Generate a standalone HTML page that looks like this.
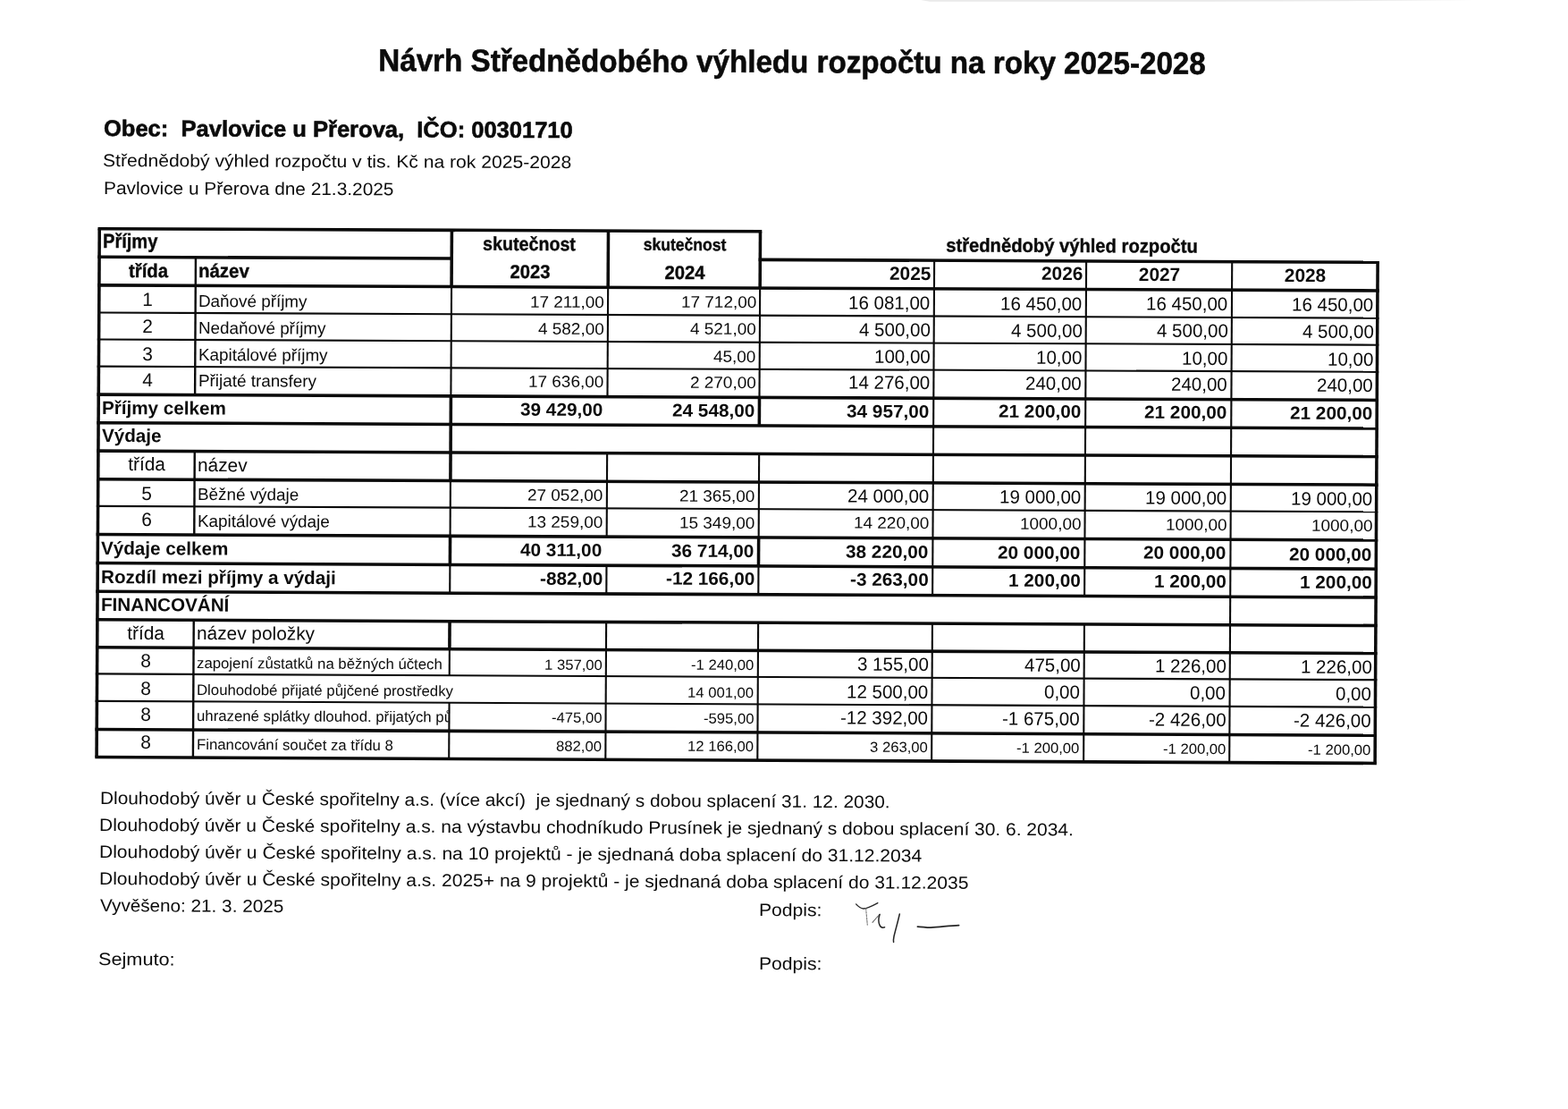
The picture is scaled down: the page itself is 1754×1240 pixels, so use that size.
<!DOCTYPE html>
<html lang="cs">
<head>
<meta charset="utf-8">
<title>Návrh Střednědobého výhledu rozpočtu na roky 2025-2028</title>
<style>
html,body{margin:0;padding:0;background:#fff;overflow:hidden}
body{width:1754px;height:1240px}
#page{position:relative;width:1754px;height:1240px;overflow:hidden;background:#fff;font-family:"Liberation Sans",sans-serif;color:#0b0b0b}
#grid{position:absolute;left:0;top:0}
.t{position:absolute;white-space:pre;line-height:1;margin:0;padding:0}
</style>
</head>
<body>
<div id="page">
<svg id="grid" width="1754" height="1240" viewBox="0 0 1754 1240" fill="none" stroke="#0b0b0b" stroke-linecap="butt">
<polygon points="1030,0 1650,0 1500,1.2 1354,1.7 1040,1.8" fill="#e9e9e9" stroke="none"/>
<line x1="109.49" y1="255.69" x2="852.28" y2="258.78" stroke-width="3.55"/>
<line x1="109.32" y1="287.29" x2="507.01" y2="288.96" stroke-width="3.55"/>
<line x1="848.56" y1="290.39" x2="1542.91" y2="293.30" stroke-width="3.55"/>
<line x1="109.15" y1="318.89" x2="1542.74" y2="324.96" stroke-width="3.55"/>
<line x1="108.98" y1="349.54" x2="1542.57" y2="355.66" stroke-width="2.10"/>
<line x1="108.82" y1="379.54" x2="1542.41" y2="385.70" stroke-width="2.10"/>
<line x1="108.66" y1="409.64" x2="1542.25" y2="415.85" stroke-width="2.10"/>
<line x1="108.49" y1="441.14" x2="1542.08" y2="447.41" stroke-width="3.55"/>
<line x1="108.31" y1="472.69" x2="1541.90" y2="479.01" stroke-width="3.55"/>
<line x1="108.14" y1="504.14" x2="1541.73" y2="510.51" stroke-width="3.55"/>
<line x1="107.97" y1="535.74" x2="1541.56" y2="542.16" stroke-width="3.55"/>
<line x1="107.81" y1="565.84" x2="1541.40" y2="572.31" stroke-width="2.10"/>
<line x1="107.64" y1="597.54" x2="1541.23" y2="604.06" stroke-width="3.55"/>
<line x1="107.47" y1="629.59" x2="1541.06" y2="636.17" stroke-width="3.55"/>
<line x1="107.30" y1="661.34" x2="1540.89" y2="667.97" stroke-width="3.55"/>
<line x1="107.13" y1="692.79" x2="1540.72" y2="699.47" stroke-width="3.55"/>
<line x1="106.96" y1="723.84" x2="1540.55" y2="730.57" stroke-width="3.55"/>
<line x1="106.80" y1="753.39" x2="1540.39" y2="760.17" stroke-width="2.10"/>
<line x1="106.63" y1="783.84" x2="1540.22" y2="790.67" stroke-width="2.10"/>
<line x1="106.46" y1="815.44" x2="1540.05" y2="822.32" stroke-width="3.55"/>
<line x1="106.30" y1="846.49" x2="1539.89" y2="853.42" stroke-width="3.55"/>
<line x1="111.26" y1="255.70" x2="108.07" y2="846.50" stroke-width="3.55"/>
<line x1="218.93" y1="287.75" x2="218.10" y2="441.62" stroke-width="2.40"/>
<line x1="217.76" y1="504.63" x2="217.26" y2="598.04" stroke-width="2.40"/>
<line x1="216.74" y1="693.30" x2="215.91" y2="847.02" stroke-width="2.40"/>
<line x1="505.40" y1="257.34" x2="505.06" y2="320.57" stroke-width="3.55"/>
<line x1="505.06" y1="320.57" x2="504.40" y2="442.87" stroke-width="2.10"/>
<line x1="504.40" y1="442.87" x2="503.89" y2="537.52" stroke-width="3.55"/>
<line x1="503.89" y1="537.52" x2="503.56" y2="599.34" stroke-width="2.10"/>
<line x1="503.56" y1="599.34" x2="503.38" y2="631.41" stroke-width="3.55"/>
<line x1="503.38" y1="631.41" x2="503.21" y2="663.17" stroke-width="2.10"/>
<line x1="503.04" y1="694.64" x2="502.87" y2="725.70" stroke-width="3.55"/>
<line x1="502.87" y1="725.70" x2="502.71" y2="755.26" stroke-width="2.10"/>
<line x1="502.55" y1="785.73" x2="502.21" y2="848.41" stroke-width="2.10"/>
<line x1="680.50" y1="258.07" x2="680.16" y2="321.31" stroke-width="3.55"/>
<line x1="680.16" y1="321.31" x2="679.50" y2="443.64" stroke-width="2.10"/>
<line x1="679.16" y1="506.68" x2="678.66" y2="600.14" stroke-width="2.10"/>
<line x1="678.48" y1="632.21" x2="678.31" y2="663.98" stroke-width="2.10"/>
<line x1="678.14" y1="695.45" x2="677.31" y2="849.25" stroke-width="2.10"/>
<line x1="850.50" y1="258.77" x2="850.16" y2="322.03" stroke-width="3.55"/>
<line x1="850.16" y1="322.03" x2="849.50" y2="444.38" stroke-width="2.10"/>
<line x1="849.50" y1="444.38" x2="849.33" y2="475.96" stroke-width="3.55"/>
<line x1="849.16" y1="507.43" x2="848.66" y2="600.91" stroke-width="2.10"/>
<line x1="848.66" y1="600.91" x2="848.48" y2="632.99" stroke-width="3.55"/>
<line x1="848.48" y1="632.99" x2="848.31" y2="664.77" stroke-width="2.10"/>
<line x1="848.14" y1="696.24" x2="847.31" y2="850.07" stroke-width="2.10"/>
<line x1="1045.13" y1="291.22" x2="1043.11" y2="665.67" stroke-width="2.10"/>
<line x1="1042.94" y1="697.15" x2="1042.11" y2="851.02" stroke-width="2.10"/>
<line x1="1215.13" y1="291.93" x2="1213.11" y2="666.45" stroke-width="2.10"/>
<line x1="1212.94" y1="697.94" x2="1212.11" y2="851.84" stroke-width="2.10"/>
<line x1="1378.23" y1="292.61" x2="1375.21" y2="852.63" stroke-width="2.10"/>
<line x1="1541.13" y1="293.30" x2="1538.11" y2="853.41" stroke-width="3.55"/>
<g stroke="#262626" stroke-linecap="round" stroke-linejoin="round">
<path d="M957.6 1010.9 C959.5 1013 962.5 1015.6 965.8 1016 C971 1015.6 977 1012.2 981.8 1009.6" stroke-width="1.4"/>
<path d="M968.7 1015.8 C969 1021 969.8 1028 970.3 1034.2" stroke-width="1.1" stroke="#777" stroke-dasharray="2.2 1.2"/>
<path d="M976 1031.3 C978.6 1028.4 981.6 1025 984 1022.4" stroke-width="1.1" stroke="#666" stroke-dasharray="2.5 1"/>
<path d="M984.1 1022.4 C982.6 1026.5 982.4 1030.5 984 1034.4 C985.3 1037.2 987.6 1037.6 989.6 1036.8" stroke-width="1.5"/>
<path d="M1006.3 1022 C1004.6 1030 1001.6 1040 1000 1047 C999.4 1050 999.3 1052 999.6 1053.4" stroke-width="1.5"/>
<path d="M1026.4 1036 C1031 1036 1036 1037.2 1041 1037.1 C1052 1036.4 1063 1035 1072.6 1034.6" stroke-width="1.75"/>
</g>
</svg>
<div class="t" style="top:51.86px;font-size:34.80px;left:285.81px;width:1200px;text-align:center;font-weight:700;-webkit-text-stroke:0.60px #0b0b0b;transform:rotate(0.2264deg) scale(0.9534,1.0000);transform-origin:50% 29px">Návrh Střednědobého výhledu rozpočtu na roky 2025-2028</div>
<div class="t" style="top:130.77px;font-size:25.30px;left:116.26px;font-weight:700;-webkit-text-stroke:0.60px #0b0b0b;transform:rotate(0.2313deg) scale(1.0086,1.0000);transform-origin:0 21px">Obec:  Pavlovice u Přerova,  IČO: 00301710</div>
<div class="t" style="top:168.02px;font-size:21.10px;left:115.38px;transform:rotate(0.2335deg) scale(1.0000,0.9300);transform-origin:0 18px">Střednědobý výhled rozpočtu v tis. Kč na rok 2025-2028</div>
<div class="t" style="top:198.77px;font-size:21.10px;left:115.81px;transform:rotate(0.2355deg) scale(0.9880,0.9400);transform-origin:0 18px">Pavlovice u Přerova dne 21.3.2025</div>
<div class="t" style="top:259.42px;font-size:22.30px;left:115.08px;font-weight:700;-webkit-text-stroke:0.40px #0b0b0b;transform:rotate(0.2395deg) scale(0.9000,1.0000);transform-origin:0 18px">Příjmy</div>
<div class="t" style="top:292.53px;font-size:21.30px;left:15.71px;width:300px;text-align:center;font-weight:700;-webkit-text-stroke:0.40px #0b0b0b;transform:rotate(0.2416deg) scale(0.9500,1.0000);transform-origin:50% 17px">třída</div>
<div class="t" style="top:293.07px;font-size:21.30px;left:222.31px;font-weight:700;-webkit-text-stroke:0.40px #0b0b0b;transform:rotate(0.2416deg) scale(0.9600,1.0000);transform-origin:0 17px">název</div>
<div class="t" style="top:262.61px;font-size:21.30px;left:442.33px;width:300px;text-align:center;font-weight:700;-webkit-text-stroke:0.40px #0b0b0b;transform:rotate(0.2395deg) scale(0.9230,1.0000);transform-origin:50% 17px">skutečnost</div>
<div class="t" style="top:293.64px;font-size:21.30px;left:443.47px;width:300px;text-align:center;font-weight:700;-webkit-text-stroke:0.40px #0b0b0b;transform:rotate(0.2416deg) scale(0.9450,1.0000);transform-origin:50% 17px">2023</div>
<div class="t" style="top:264.44px;font-size:19.20px;left:616.38px;width:300px;text-align:center;font-weight:700;-webkit-text-stroke:0.40px #0b0b0b;transform:rotate(0.2395deg) scale(0.9150,1.0000);transform-origin:50% 16px">skutečnost</div>
<div class="t" style="top:294.66px;font-size:21.30px;left:616.41px;width:300px;text-align:center;font-weight:700;-webkit-text-stroke:0.40px #0b0b0b;transform:rotate(0.2416deg) scale(0.9500,1.0000);transform-origin:50% 17px">2024</div>
<div class="t" style="top:264.85px;font-size:21.30px;left:948.88px;width:500px;text-align:center;font-weight:700;-webkit-text-stroke:0.40px #0b0b0b;transform:rotate(0.2395deg) scale(0.9480,1.0000);transform-origin:50% 17px">střednědobý výhled rozpočtu</div>
<div class="t" style="top:295.52px;font-size:20.83px;right:712.98px;font-weight:700;transform:rotate(0.2416deg);transform-origin:100% 17px">2025</div>
<div class="t" style="top:296.04px;font-size:20.83px;right:542.98px;font-weight:700;transform:rotate(0.2416deg);transform-origin:100% 17px">2026</div>
<div class="t" style="top:296.60px;font-size:20.83px;left:1146.57px;width:300px;text-align:center;font-weight:700;transform:rotate(0.2416deg);transform-origin:50% 17px">2027</div>
<div class="t" style="top:297.99px;font-size:20.83px;left:1309.56px;width:300px;text-align:center;font-weight:700;transform:rotate(0.2416deg);transform-origin:50% 17px">2028</div>
<div class="t" style="top:325.33px;font-size:20.83px;left:15.44px;width:300px;text-align:center;transform:rotate(0.2438deg) scale(1.0000,1.0200);transform-origin:50% 17px">1</div>
<div class="t" style="top:327.58px;font-size:18.85px;left:222.44px;transform:rotate(0.2438deg);transform-origin:0 15px">Daňové příjmy</div>
<div class="t" style="top:328.60px;font-size:18.95px;right:1078.26px;transform:rotate(0.2437deg) scale(1.0000,0.9600);transform-origin:100% 15px">17 211,00</div>
<div class="t" style="top:329.33px;font-size:18.95px;right:908.26px;transform:rotate(0.2437deg) scale(1.0000,0.9600);transform-origin:100% 15px">17 712,00</div>
<div class="t" style="top:328.86px;font-size:20.50px;right:713.46px;transform:rotate(0.2438deg) scale(1.0000,1.0200);transform-origin:100% 17px">16 081,00</div>
<div class="t" style="top:329.58px;font-size:20.50px;right:543.46px;transform:rotate(0.2438deg) scale(1.0000,1.0200);transform-origin:100% 17px">16 450,00</div>
<div class="t" style="top:330.27px;font-size:20.50px;right:380.36px;transform:rotate(0.2438deg) scale(1.0000,1.0200);transform-origin:100% 17px">16 450,00</div>
<div class="t" style="top:331.37px;font-size:20.50px;right:217.47px;transform:rotate(0.2438deg) scale(1.0000,1.0200);transform-origin:100% 17px">16 450,00</div>
<div class="t" style="top:355.29px;font-size:20.83px;left:15.27px;width:300px;text-align:center;transform:rotate(0.2458deg) scale(1.0000,1.0200);transform-origin:50% 17px">2</div>
<div class="t" style="top:357.53px;font-size:18.85px;left:222.27px;transform:rotate(0.2458deg);transform-origin:0 15px">Nedaňové příjmy</div>
<div class="t" style="top:358.57px;font-size:18.95px;right:1078.42px;transform:rotate(0.2457deg) scale(1.0000,0.9600);transform-origin:100% 15px">4 582,00</div>
<div class="t" style="top:359.30px;font-size:18.95px;right:908.42px;transform:rotate(0.2457deg) scale(1.0000,0.9600);transform-origin:100% 15px">4 521,00</div>
<div class="t" style="top:358.84px;font-size:20.50px;right:713.63px;transform:rotate(0.2457deg) scale(1.0000,1.0200);transform-origin:100% 17px">4 500,00</div>
<div class="t" style="top:359.57px;font-size:20.50px;right:543.63px;transform:rotate(0.2457deg) scale(1.0000,1.0200);transform-origin:100% 17px">4 500,00</div>
<div class="t" style="top:360.27px;font-size:20.50px;right:380.53px;transform:rotate(0.2457deg) scale(1.0000,1.0200);transform-origin:100% 17px">4 500,00</div>
<div class="t" style="top:361.37px;font-size:20.50px;right:217.63px;transform:rotate(0.2458deg) scale(1.0000,1.0200);transform-origin:100% 17px">4 500,00</div>
<div class="t" style="top:385.59px;font-size:20.83px;left:15.11px;width:300px;text-align:center;transform:rotate(0.2477deg) scale(1.0000,1.0200);transform-origin:50% 17px">3</div>
<div class="t" style="top:387.83px;font-size:18.85px;left:222.11px;transform:rotate(0.2477deg);transform-origin:0 15px">Kapitálové příjmy</div>
<div class="t" style="top:389.63px;font-size:18.95px;right:908.59px;transform:rotate(0.2477deg) scale(1.0000,0.9600);transform-origin:100% 15px">45,00</div>
<div class="t" style="top:389.17px;font-size:20.50px;right:713.79px;transform:rotate(0.2477deg) scale(1.0000,1.0200);transform-origin:100% 17px">100,00</div>
<div class="t" style="top:389.91px;font-size:20.50px;right:543.79px;transform:rotate(0.2477deg) scale(1.0000,1.0200);transform-origin:100% 17px">10,00</div>
<div class="t" style="top:390.61px;font-size:20.50px;right:380.69px;transform:rotate(0.2477deg) scale(1.0000,1.0200);transform-origin:100% 17px">10,00</div>
<div class="t" style="top:391.72px;font-size:20.50px;right:217.79px;transform:rotate(0.2478deg) scale(1.0000,1.0200);transform-origin:100% 17px">10,00</div>
<div class="t" style="top:414.79px;font-size:20.83px;left:14.95px;width:300px;text-align:center;transform:rotate(0.2497deg) scale(1.0000,1.0200);transform-origin:50% 17px">4</div>
<div class="t" style="top:417.04px;font-size:18.85px;left:221.95px;transform:rotate(0.2497deg);transform-origin:0 15px">Přijaté transfery</div>
<div class="t" style="top:418.11px;font-size:18.95px;right:1078.74px;transform:rotate(0.2496deg) scale(1.0000,0.9600);transform-origin:100% 15px">17 636,00</div>
<div class="t" style="top:418.85px;font-size:18.95px;right:908.74px;transform:rotate(0.2496deg) scale(1.0000,0.9600);transform-origin:100% 15px">2 270,00</div>
<div class="t" style="top:418.40px;font-size:20.50px;right:713.95px;transform:rotate(0.2497deg) scale(1.0000,1.0200);transform-origin:100% 17px">14 276,00</div>
<div class="t" style="top:419.14px;font-size:20.50px;right:543.95px;transform:rotate(0.2497deg) scale(1.0000,1.0200);transform-origin:100% 17px">240,00</div>
<div class="t" style="top:419.85px;font-size:20.50px;right:380.85px;transform:rotate(0.2497deg) scale(1.0000,1.0200);transform-origin:100% 17px">240,00</div>
<div class="t" style="top:420.96px;font-size:20.50px;right:217.95px;transform:rotate(0.2497deg) scale(1.0000,1.0200);transform-origin:100% 17px">240,00</div>
<div class="t" style="top:541.65px;font-size:20.83px;left:14.27px;width:300px;text-align:center;transform:rotate(0.2580deg) scale(1.0000,1.0200);transform-origin:50% 17px">5</div>
<div class="t" style="top:543.90px;font-size:18.85px;left:221.27px;transform:rotate(0.2580deg);transform-origin:0 15px">Běžné výdaje</div>
<div class="t" style="top:545.04px;font-size:18.95px;right:1079.43px;transform:rotate(0.2580deg) scale(1.0000,0.9600);transform-origin:100% 15px">27 052,00</div>
<div class="t" style="top:545.81px;font-size:18.95px;right:909.43px;transform:rotate(0.2580deg) scale(1.0000,0.9600);transform-origin:100% 15px">21 365,00</div>
<div class="t" style="top:545.39px;font-size:20.50px;right:714.63px;transform:rotate(0.2580deg) scale(1.0000,1.0200);transform-origin:100% 17px">24 000,00</div>
<div class="t" style="top:546.15px;font-size:20.50px;right:544.63px;transform:rotate(0.2580deg) scale(1.0000,1.0200);transform-origin:100% 17px">19 000,00</div>
<div class="t" style="top:546.89px;font-size:20.50px;right:381.53px;transform:rotate(0.2580deg) scale(1.0000,1.0200);transform-origin:100% 17px">19 000,00</div>
<div class="t" style="top:548.02px;font-size:20.50px;right:218.63px;transform:rotate(0.2580deg) scale(1.0000,1.0200);transform-origin:100% 17px">19 000,00</div>
<div class="t" style="top:571.35px;font-size:20.83px;left:14.11px;width:300px;text-align:center;transform:rotate(0.2600deg) scale(1.0000,1.0200);transform-origin:50% 17px">6</div>
<div class="t" style="top:573.61px;font-size:18.85px;left:221.11px;transform:rotate(0.2600deg);transform-origin:0 15px">Kapitálové výdaje</div>
<div class="t" style="top:574.76px;font-size:18.95px;right:1079.59px;transform:rotate(0.2599deg) scale(1.0000,0.9600);transform-origin:100% 15px">13 259,00</div>
<div class="t" style="top:575.54px;font-size:18.95px;right:909.59px;transform:rotate(0.2599deg) scale(1.0000,0.9600);transform-origin:100% 15px">15 349,00</div>
<div class="t" style="top:576.42px;font-size:18.95px;right:714.79px;transform:rotate(0.2599deg) scale(1.0000,0.9600);transform-origin:100% 15px">14 220,00</div>
<div class="t" style="top:577.19px;font-size:18.95px;right:544.79px;transform:rotate(0.2599deg) scale(1.0000,0.9600);transform-origin:100% 15px">1000,00</div>
<div class="t" style="top:577.93px;font-size:18.95px;right:381.69px;transform:rotate(0.2599deg) scale(1.0000,0.9600);transform-origin:100% 15px">1000,00</div>
<div class="t" style="top:579.07px;font-size:18.95px;right:218.79px;transform:rotate(0.2599deg) scale(1.0000,0.9600);transform-origin:100% 15px">1000,00</div>
<div class="t" style="top:729.36px;font-size:20.83px;left:13.25px;width:300px;text-align:center;transform:rotate(0.2704deg) scale(1.0000,1.0200);transform-origin:50% 17px">8</div>
<div class="t" style="top:733.63px;font-size:16.67px;left:220.25px;transform:rotate(0.2704deg) scale(1.0060,1.0000);transform-origin:0 13px">zapojení zůstatků na běžných účtech</div>
<div class="t" style="top:735.57px;font-size:16.67px;right:1080.45px;transform:rotate(0.2703deg) scale(1.0000,0.9700);transform-origin:100% 13px">1 357,00</div>
<div class="t" style="top:736.37px;font-size:16.67px;right:910.45px;transform:rotate(0.2703deg) scale(1.0000,0.9700);transform-origin:100% 13px">-1 240,00</div>
<div class="t" style="top:733.29px;font-size:20.50px;right:715.65px;transform:rotate(0.2703deg) scale(1.0000,1.0200);transform-origin:100% 17px">3 155,00</div>
<div class="t" style="top:734.09px;font-size:20.50px;right:545.65px;transform:rotate(0.2703deg) scale(1.0000,1.0200);transform-origin:100% 17px">475,00</div>
<div class="t" style="top:734.86px;font-size:20.50px;right:382.55px;transform:rotate(0.2703deg) scale(1.0000,1.0200);transform-origin:100% 17px">1 226,00</div>
<div class="t" style="top:736.03px;font-size:20.50px;right:219.65px;transform:rotate(0.2704deg) scale(1.0000,1.0200);transform-origin:100% 17px">1 226,00</div>
<div class="t" style="top:759.66px;font-size:20.83px;left:13.09px;width:300px;text-align:center;transform:rotate(0.2723deg) scale(1.0000,1.0200);transform-origin:50% 17px">8</div>
<div class="t" style="top:763.93px;font-size:16.67px;left:220.09px;transform:rotate(0.2723deg) scale(1.0060,1.0000);transform-origin:0 13px">Dlouhodobé přijaté půjčené prostředky</div>
<div class="t" style="top:766.69px;font-size:16.67px;right:910.61px;transform:rotate(0.2723deg) scale(1.0000,0.9700);transform-origin:100% 13px">14 001,00</div>
<div class="t" style="top:763.62px;font-size:20.50px;right:715.81px;transform:rotate(0.2723deg) scale(1.0000,1.0200);transform-origin:100% 17px">12 500,00</div>
<div class="t" style="top:764.43px;font-size:20.50px;right:545.81px;transform:rotate(0.2723deg) scale(1.0000,1.0200);transform-origin:100% 17px">0,00</div>
<div class="t" style="top:765.20px;font-size:20.50px;right:382.71px;transform:rotate(0.2723deg) scale(1.0000,1.0200);transform-origin:100% 17px">0,00</div>
<div class="t" style="top:766.38px;font-size:20.50px;right:219.81px;transform:rotate(0.2724deg) scale(1.0000,1.0200);transform-origin:100% 17px">0,00</div>
<div class="t" style="top:789.06px;font-size:20.83px;left:12.93px;width:300px;text-align:center;transform:rotate(0.2743deg) scale(1.0000,1.0200);transform-origin:50% 17px">8</div>
<div class="t" style="top:793.34px;font-size:16.67px;left:219.93px;transform:rotate(0.2743deg) scale(1.0060,1.0000);transform-origin:0 13px;width:279.62px;overflow:hidden">uhrazené splátky dlouhod. přijatých pů</div>
<div class="t" style="top:795.31px;font-size:16.67px;right:1080.77px;transform:rotate(0.2743deg) scale(1.0000,0.9700);transform-origin:100% 13px">-475,00</div>
<div class="t" style="top:796.12px;font-size:16.67px;right:910.77px;transform:rotate(0.2743deg) scale(1.0000,0.9700);transform-origin:100% 13px">-595,00</div>
<div class="t" style="top:793.05px;font-size:20.50px;right:715.97px;transform:rotate(0.2743deg) scale(1.0000,1.0200);transform-origin:100% 17px">-12 392,00</div>
<div class="t" style="top:793.87px;font-size:20.50px;right:545.97px;transform:rotate(0.2743deg) scale(1.0000,1.0200);transform-origin:100% 17px">-1 675,00</div>
<div class="t" style="top:794.65px;font-size:20.50px;right:382.87px;transform:rotate(0.2743deg) scale(1.0000,1.0200);transform-origin:100% 17px">-2 426,00</div>
<div class="t" style="top:795.83px;font-size:20.50px;right:219.97px;transform:rotate(0.2743deg) scale(1.0000,1.0200);transform-origin:100% 17px">-2 426,00</div>
<div class="t" style="top:820.36px;font-size:20.83px;left:12.76px;width:300px;text-align:center;transform:rotate(0.2763deg) scale(1.0000,1.0200);transform-origin:50% 17px">8</div>
<div class="t" style="top:824.64px;font-size:16.67px;left:219.76px;transform:rotate(0.2763deg) scale(1.0060,1.0000);transform-origin:0 13px">Financování součet za třídu 8</div>
<div class="t" style="top:826.63px;font-size:16.67px;right:1080.94px;transform:rotate(0.2763deg) scale(1.0000,0.9700);transform-origin:100% 13px">882,00</div>
<div class="t" style="top:827.45px;font-size:16.67px;right:910.94px;transform:rotate(0.2763deg) scale(1.0000,0.9700);transform-origin:100% 13px">12 166,00</div>
<div class="t" style="top:828.39px;font-size:16.67px;right:716.14px;transform:rotate(0.2763deg) scale(1.0000,0.9700);transform-origin:100% 13px">3 263,00</div>
<div class="t" style="top:829.21px;font-size:16.67px;right:546.14px;transform:rotate(0.2763deg) scale(1.0000,0.9700);transform-origin:100% 13px">-1 200,00</div>
<div class="t" style="top:829.99px;font-size:16.67px;right:383.04px;transform:rotate(0.2763deg) scale(1.0000,0.9700);transform-origin:100% 13px">-1 200,00</div>
<div class="t" style="top:831.18px;font-size:16.67px;right:220.14px;transform:rotate(0.2764deg) scale(1.0000,0.9700);transform-origin:100% 13px">-1 200,00</div>
<div class="t" style="top:446.07px;font-size:20.65px;left:113.98px;font-weight:700;transform:rotate(0.2517deg);transform-origin:0 17px">Příjmy celkem</div>
<div class="t" style="top:448.03px;font-size:20.75px;right:1079.52px;font-weight:700;transform:rotate(0.2517deg) scale(1.0000,0.9700);transform-origin:100% 17px">39 429,00</div>
<div class="t" style="top:448.78px;font-size:20.75px;right:909.52px;font-weight:700;transform:rotate(0.2517deg) scale(1.0000,0.9700);transform-origin:100% 17px">24 548,00</div>
<div class="t" style="top:449.63px;font-size:20.75px;right:714.72px;font-weight:700;transform:rotate(0.2517deg) scale(1.0000,0.9700);transform-origin:100% 17px">34 957,00</div>
<div class="t" style="top:450.38px;font-size:20.75px;right:544.72px;font-weight:700;transform:rotate(0.2517deg) scale(1.0000,0.9700);transform-origin:100% 17px">21 200,00</div>
<div class="t" style="top:451.10px;font-size:20.75px;right:381.62px;font-weight:700;transform:rotate(0.2517deg) scale(1.0000,0.9700);transform-origin:100% 17px">21 200,00</div>
<div class="t" style="top:452.21px;font-size:20.75px;right:218.72px;font-weight:700;transform:rotate(0.2517deg) scale(1.0000,0.9700);transform-origin:100% 17px">21 200,00</div>
<div class="t" style="top:477.42px;font-size:20.65px;left:113.81px;font-weight:700;transform:rotate(0.2538deg);transform-origin:0 17px">Výdaje</div>
<div class="t" style="top:603.17px;font-size:20.65px;left:113.13px;font-weight:700;transform:rotate(0.2621deg);transform-origin:0 17px">Výdaje celkem</div>
<div class="t" style="top:605.23px;font-size:20.75px;right:1080.36px;font-weight:700;transform:rotate(0.2620deg) scale(1.0000,0.9700);transform-origin:100% 17px">40 311,00</div>
<div class="t" style="top:606.01px;font-size:20.75px;right:910.36px;font-weight:700;transform:rotate(0.2620deg) scale(1.0000,0.9700);transform-origin:100% 17px">36 714,00</div>
<div class="t" style="top:606.90px;font-size:20.75px;right:715.56px;font-weight:700;transform:rotate(0.2620deg) scale(1.0000,0.9700);transform-origin:100% 17px">38 220,00</div>
<div class="t" style="top:607.68px;font-size:20.75px;right:545.56px;font-weight:700;transform:rotate(0.2620deg) scale(1.0000,0.9700);transform-origin:100% 17px">20 000,00</div>
<div class="t" style="top:608.42px;font-size:20.75px;right:382.46px;font-weight:700;transform:rotate(0.2620deg) scale(1.0000,0.9700);transform-origin:100% 17px">20 000,00</div>
<div class="t" style="top:609.57px;font-size:20.75px;right:219.57px;font-weight:700;transform:rotate(0.2621deg) scale(1.0000,0.9700);transform-origin:100% 17px">20 000,00</div>
<div class="t" style="top:634.52px;font-size:20.65px;left:112.96px;font-weight:700;transform:rotate(0.2641deg);transform-origin:0 17px">Rozdíl mezi příjmy a výdaji</div>
<div class="t" style="top:636.61px;font-size:20.75px;right:1079.93px;font-weight:700;transform:rotate(0.2641deg) scale(1.0000,0.9700);transform-origin:100% 17px">-882,00</div>
<div class="t" style="top:637.39px;font-size:20.75px;right:909.93px;font-weight:700;transform:rotate(0.2641deg) scale(1.0000,0.9700);transform-origin:100% 17px">-12 166,00</div>
<div class="t" style="top:638.29px;font-size:20.75px;right:715.13px;font-weight:700;transform:rotate(0.2641deg) scale(1.0000,0.9700);transform-origin:100% 17px">-3 263,00</div>
<div class="t" style="top:639.07px;font-size:20.75px;right:545.13px;font-weight:700;transform:rotate(0.2641deg) scale(1.0000,0.9700);transform-origin:100% 17px">1 200,00</div>
<div class="t" style="top:639.82px;font-size:20.75px;right:382.03px;font-weight:700;transform:rotate(0.2641deg) scale(1.0000,0.9700);transform-origin:100% 17px">1 200,00</div>
<div class="t" style="top:640.97px;font-size:20.75px;right:219.14px;font-weight:700;transform:rotate(0.2641deg) scale(1.0000,0.9700);transform-origin:100% 17px">1 200,00</div>
<div class="t" style="top:666.07px;font-size:20.65px;left:112.79px;font-weight:700;transform:rotate(0.2662deg);transform-origin:0 17px">FINANCOVÁNÍ</div>
<div class="t" style="top:509.25px;font-size:20.83px;left:14.44px;width:300px;text-align:center;transform:rotate(0.2559deg);transform-origin:50% 17px">třída</div>
<div class="t" style="top:509.50px;font-size:20.83px;left:221.44px;transform:rotate(0.2559deg);transform-origin:0 17px">název</div>
<div class="t" style="top:697.51px;font-size:20.83px;left:13.43px;width:300px;text-align:center;transform:rotate(0.2683deg);transform-origin:50% 17px">třída</div>
<div class="t" style="top:697.77px;font-size:20.83px;left:220.43px;transform:rotate(0.2683deg);transform-origin:0 17px">název položky</div>
<div class="t" style="top:880.92px;font-size:21.10px;left:111.53px;transform:rotate(0.2804deg) scale(0.9877,0.9350);transform-origin:0 18px">Dlouhodobý úvěr u České spořitelny a.s. (více akcí)  je sjednaný s dobou splacení 31. 12. 2030.</div>
<div class="t" style="top:911.02px;font-size:21.10px;left:111.37px;transform:rotate(0.2824deg) scale(0.9940,0.9350);transform-origin:0 18px">Dlouhodobý úvěr u České spořitelny a.s. na výstavbu chodníkudo Prusínek je sjednaný s dobou splacení 30. 6. 2034.</div>
<div class="t" style="top:941.12px;font-size:21.10px;left:111.20px;transform:rotate(0.2844deg) scale(0.9970,0.9350);transform-origin:0 18px">Dlouhodobý úvěr u České spořitelny a.s. na 10 projektů - je sjednaná doba splacení do 31.12.2034</div>
<div class="t" style="top:971.32px;font-size:21.10px;left:111.04px;transform:rotate(0.2864deg) scale(0.9960,0.9350);transform-origin:0 18px">Dlouhodobý úvěr u České spořitelny a.s. 2025+ na 9 projektů - je sjednaná doba splacení do 31.12.2035</div>
<div class="t" style="top:1001.32px;font-size:21.10px;left:111.68px;transform:rotate(0.2883deg) scale(0.9810,0.9350);transform-origin:0 18px">Vyvěšeno: 21. 3. 2025</div>
<div class="t" style="top:1061.12px;font-size:21.10px;left:109.76px;transform:rotate(0.2923deg) scale(1.0280,0.9350);transform-origin:0 18px">Sejmuto:</div>
<div class="t" style="top:1005.84px;font-size:21.10px;left:849.37px;transform:rotate(0.2884deg) scale(1.0000,0.9350);transform-origin:0 18px">Podpis:</div>
<div class="t" style="top:1065.69px;font-size:21.10px;left:848.85px;transform:rotate(0.2923deg) scale(1.0000,0.9350);transform-origin:0 18px">Podpis:</div>
</div>
</body>
</html>
